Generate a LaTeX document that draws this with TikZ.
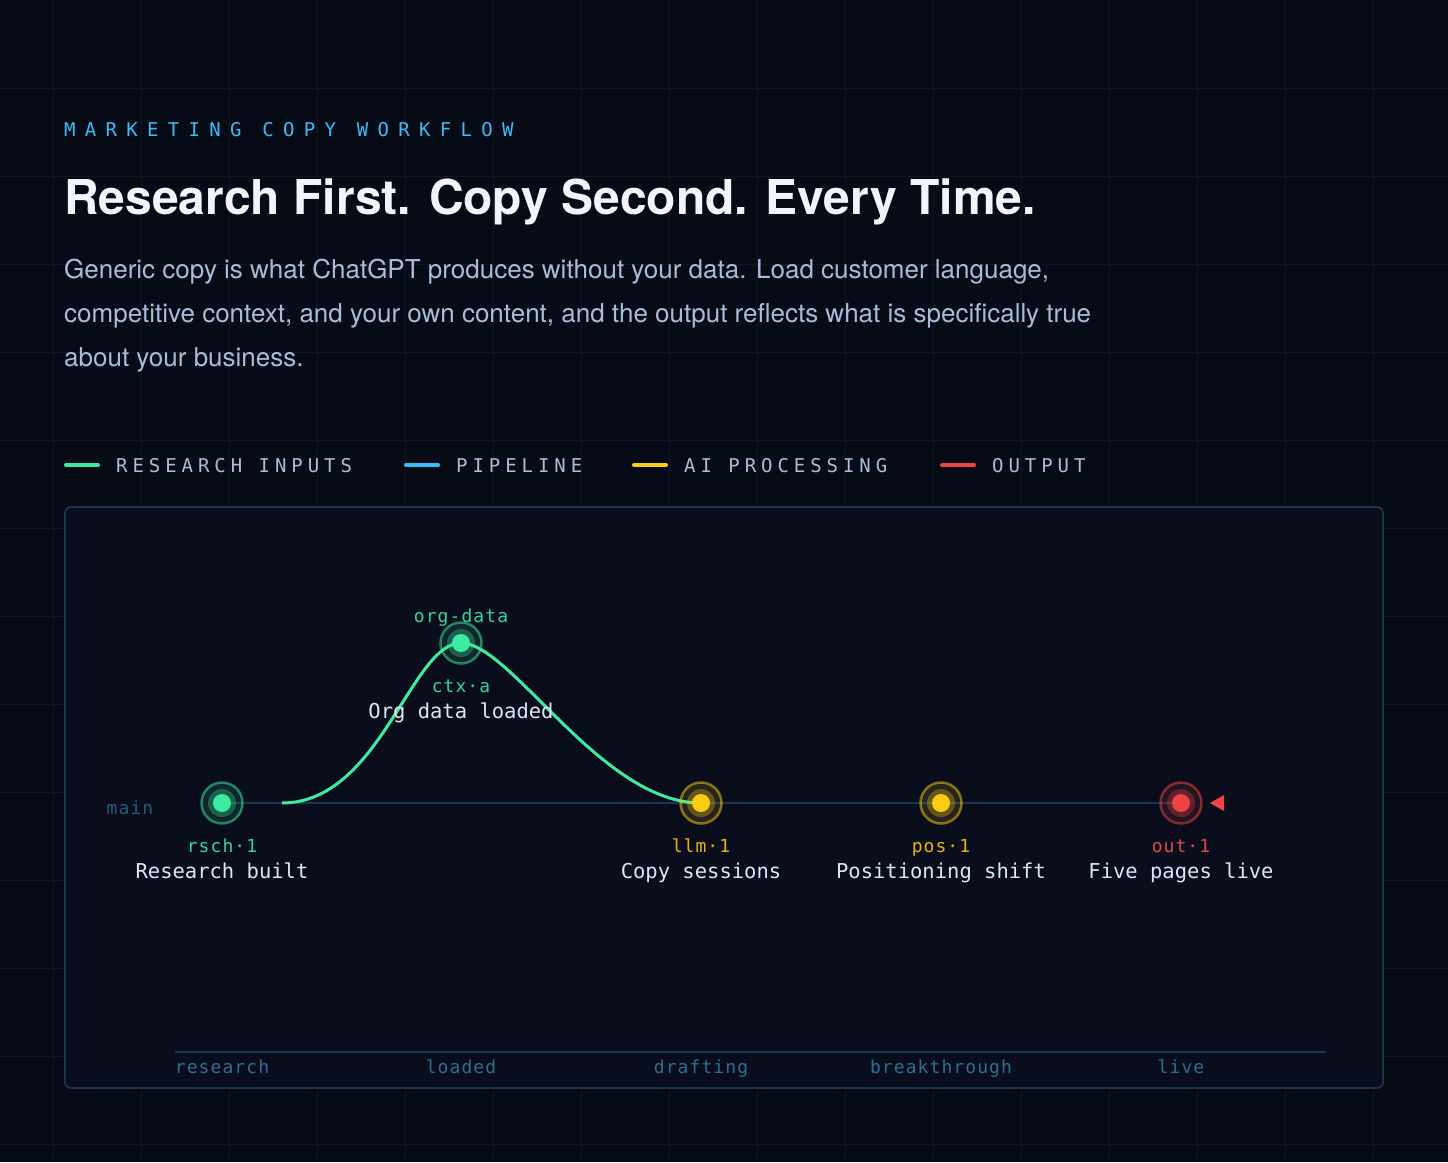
\documentclass[tikz,border=0pt]{standalone}
\usepackage{fontspec}
\setmainfont{TeX Gyre Heros}
\newfontfamily\monofont{DejaVu Sans Mono}
\newfontfamily\kickerfont[LetterSpace=49]{DejaVu Sans Mono}
\newfontfamily\legendfont[LetterSpace=26]{DejaVu Sans Mono}
\newfontfamily\tagfont[LetterSpace=6]{DejaVu Sans Mono}
\usetikzlibrary{calc, backgrounds}

\definecolor{pagebg}{HTML}{070B16}
\definecolor{gridcol}{HTML}{0E1525}
\definecolor{panel}{HTML}{0A0E1C}
\definecolor{panelline}{HTML}{1A344A}
\definecolor{mint}{HTML}{3EEBA0}
\definecolor{mintdim}{HTML}{34D399}
\definecolor{amber}{HTML}{FACC15}
\definecolor{amberdim}{HTML}{EAB308}
\definecolor{coral}{HTML}{F04444}
\definecolor{coraldim}{HTML}{E04848}
\definecolor{sky}{HTML}{38BDF8}
\definecolor{mist}{HTML}{A8BDDA}
\definecolor{snow}{HTML}{F1F5FB}
\definecolor{labelcol}{HTML}{DCE6F5}
\definecolor{axistext}{HTML}{2C6E92}
\definecolor{mainlabel}{HTML}{235B7C}
\definecolor{trunk}{HTML}{17374E}

\begin{document}
\begin{tikzpicture}[x=1pt, y=-1pt, line cap=round,
    ring/.style={circle, inner sep=0, minimum size=41pt, line width=2.5pt,
      draw=#1, draw opacity=0.5, fill=#1, fill opacity=0.12},
    halo/.style={circle, inner sep=0, minimum size=28pt, fill=#1, fill opacity=0.3},
    dot/.style={circle, inner sep=0, minimum size=18pt, fill=#1},
    tag/.style={font=\tagfont\fontsize{18}{20}\selectfont, text=#1, anchor=base, inner sep=0},
    caption/.style={font=\monofont\fontsize{20.5}{24}\selectfont, text=labelcol, anchor=base, inner sep=0},
    legend/.style={font=\legendfont\fontsize{19}{22}\selectfont, text=mist, anchor=base west, inner sep=0},
    para/.style={font=\fontsize{26}{44}\selectfont, text=mist, anchor=base west, inner sep=0},
    key/.style={line width=4pt, draw=#1},
  ]
  \useasboundingbox (0,0) rectangle (1448,1162);

  % header
  \node[font=\kickerfont\fontsize{19}{22}\selectfont, text=sky, anchor=base west, inner sep=0]
    (kicker) at (64,136) {MARKETING COPY WORKFLOW};
  \node[font=\fontsize{48}{56}\selectfont\bfseries, text=snow, anchor=base west, inner sep=0]
    (title) at (64,214) {Research First. Copy Second. Every Time.};
  \node[para] (para1) at (64,278) {Generic copy is what ChatGPT produces without your data. Load customer language,};
  \node[para] (para2) at (64,322) {competitive context, and your own content, and the output reflects what is specifically true};
  \node[para] (para3) at (64,366) {about your business.};

  % legend
  \draw[key=mint] (66,465) -- (98,465);
  \node[legend] (lg-research) at (116,472) {RESEARCH INPUTS};
  \draw[key=sky] (406,465) -- (438,465);
  \node[legend] (lg-pipeline) at (456,472) {PIPELINE};
  \draw[key=amber] (634,465) -- (666,465);
  \node[legend] (lg-ai) at (684,472) {AI PROCESSING};
  \draw[key=coral] (942,465) -- (974,465);
  \node[legend] (lg-output) at (992,472) {OUTPUT};

  % commits on main
  \foreach \n/\x/\c in {rsch/222/mint, llm/701/amber, pos/941/amber, out/1181/coral} {
    \node[ring=\c] (\n) at (\x,803) {};
    \node[halo=\c] (\n-halo) at (\n) {};
    \node[dot=\c] (\n-dot) at (\n) {};
  }
  \node[ring=mint] (org) at (461,643) {};
  \node[halo=mint] (org-halo) at (org) {};
  \node[dot=mint] (org-dot) at (org) {};
  \coordinate (fork) at (282,803);
  \fill[coral] ($(out)+(29,0)$) -- ++(14,-8) -- ++(0,16) -- cycle;

  \node[tag=mainlabel] (main-lbl) at (130,814) {main};
  \node[tag=mintdim] (org-lbl) at (461,622) {org-data};
  \node[tag=mintdim] (org-tag) at (461,692) {ctx·a};
  \node[caption] (org-cap) at (461,718) {Org data loaded};
  \node[tag=mintdim] (rsch-tag) at (222,852) {rsch·1};
  \node[caption] (rsch-cap) at (222,878) {Research built};
  \node[tag=amberdim] (llm-tag) at (701,852) {llm·1};
  \node[caption] (llm-cap) at (701,878) {Copy sessions};
  \node[tag=amberdim] (pos-tag) at (941,852) {pos·1};
  \node[caption] (pos-cap) at (941,878) {Positioning shift};
  \node[tag=coraldim] (out-tag) at (1181,852) {out·1};
  \node[caption] (out-cap) at (1181,878) {Five pages live};

  % stage axis
  \coordinate (axis-l) at (175,1052);
  \coordinate (axis-r) at (1326,1052);
  \foreach \n/\x/\t in {research/222/research, loaded/461/loaded, drafting/701/drafting,
      breakthrough/941/breakthrough, live/1181/live}
    \node[tag=axistext] (ax-\n) at (\x,1073) {\t};

  \begin{pgfonlayer}{background}
    \fill[pagebg] (0,0) rectangle (1448,1162);
    \foreach \gx in {53,141,...,1461}
      \draw[gridcol, line width=1pt] (\gx,0) -- (\gx,1162);
    \foreach \gy in {88,176,...,1144}
      \draw[gridcol, line width=1pt] (0,\gy) -- (1448,\gy);
    \draw[panelline, fill=panel, line width=1.8pt, rounded corners=6pt] (65,507) rectangle (1383,1088);
    \draw[trunk, line width=2.5pt] (rsch.center) -- (out.center);
    \draw[mint, line width=3pt] (fork) .. controls (380,803) and (411,643) .. (org.center)
      .. controls (511,643) and (601,803) .. (llm.center);
    \draw[trunk, line width=2pt] (axis-l) -- (axis-r);
  \end{pgfonlayer}
\end{tikzpicture}
\end{document}
